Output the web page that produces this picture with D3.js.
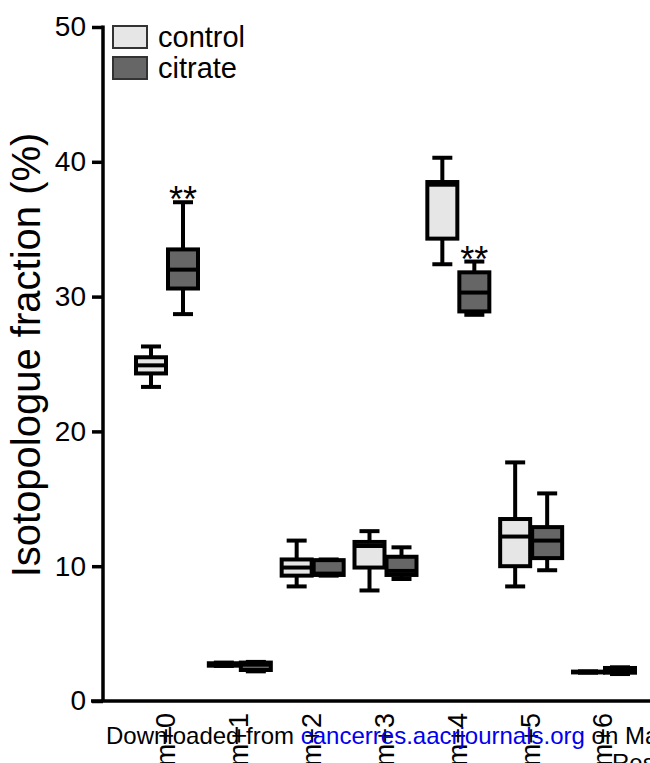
<!DOCTYPE html>
<html>
<head>
<meta charset="utf-8">
<script src="https://cdn.jsdelivr.net/npm/d3@7"></script>
<style>
    body { margin: 0; background: #fff; }
    svg { display: block; font-family: "Liberation Sans", Arial, sans-serif; }
</style>
</head>
<body>
<div class="chart"></div>
<script>
// isotopologue groups and tick labels
const groups = ["m+0", "m+1", "m+2", "m+3", "m+4", "m+5", "m+6"];
const yTicks = [0, 10, 20, 30, 40, 50];
const seriesNames = ["control", "citrate"];

// [whisker low, q1, median, q3, whisker high]
const controlStats = [
    [23.3, 24.3, 24.9, 25.5, 26.3],
    [2.6, 2.62, 2.7, 2.8, 2.85],
    [8.5, 9.3, 9.9, 10.5, 11.9],
    [8.2, 9.9, 11.5, 11.8, 12.6],
    [32.4, 34.3, 38.3, 38.5, 40.3],
    [8.5, 10.0, 12.2, 13.5, 17.7],
    [2.1, 2.12, 2.15, 2.18, 2.2]
];
const citrateStats = [
    [28.7, 30.6, 32.0, 33.5, 37.0],
    [2.2, 2.3, 2.7, 2.85, 2.9],
    [9.3, 9.35, 9.45, 10.45, 10.5],
    [9.05, 9.35, 9.65, 10.7, 11.4],
    [28.65, 28.9, 30.3, 31.8, 32.6],
    [9.7, 10.6, 11.9, 12.9, 15.4],
    [2.0, 2.1, 2.3, 2.45, 2.5]
];
// significance marks on citrate
const stars = ["**", "", "", "", "**", "", ""];

const width = 650;
const height = 763;
const fills = { control: "#e6e6e6", citrate: "#666666" };
const stroke = 4;

const svg = d3.select(".chart").append("svg")
    .attr("width", width)
    .attr("height", height);

const y = d3.scaleLinear().domain([0, 50]).range([701, 27]);
const x = d3.scalePoint().domain(groups).range([166, 603]);
const offset = { control: -15, citrate: 17 };
const boxWidth = 30;
const capWidth = 20;

// y axis
const yAxis = d3.axisLeft(y).tickValues(yTicks).tickSize(11).tickPadding(6);
const gy = svg.append("g")
    .attr("class", "y-axis")
    .attr("transform", "translate(103,0)")
    .call(yAxis);
gy.select(".domain").remove();
gy.append("line")
    .attr("x1", 0).attr("x2", 0)
    .attr("y1", y(50) - 1.5).attr("y2", y(0))
    .attr("stroke", "#000").attr("stroke-width", 3.5);
gy.selectAll(".tick line").attr("stroke", "#000").attr("stroke-width", 3.5);
gy.selectAll(".tick text")
    .attr("fill", "#000")
    .style("font-size", "28px");

// x axis baseline
svg.append("line")
    .attr("x1", 91).attr("x2", width)
    .attr("y1", y(0)).attr("y2", y(0))
    .attr("stroke", "#000").attr("stroke-width", 3.5);

svg.selectAll(".x-label")
    .data(groups)
    .enter()
    .append("text")
    .attr("class", "x-label")
    .attr("transform", (d) => `translate(${x(d)},713) rotate(-90)`)
    .attr("text-anchor", "end")
    .attr("dy", ".35em")
    .style("font-size", "27px")
    .text((d) => d);

// y label
svg.append("text")
    .attr("transform", "translate(40,355) rotate(-90)")
    .attr("text-anchor", "middle")
    .style("font-size", "40px")
    .text("Isotopologue fraction (%)");

// boxes
function drawBoxes(name, stats) {
    const g = svg.append("g").attr("class", "box " + name);
    const box = g.selectAll("g")
        .data(stats)
        .enter()
        .append("g")
        .attr("transform", (d, i) => `translate(${x(groups[i]) + offset[name]},0)`);

    box.append("line")
        .attr("y1", (d) => y(d[0])).attr("y2", (d) => y(d[4]))
        .attr("stroke", "#000").attr("stroke-width", stroke);
    box.append("line")
        .attr("x1", -capWidth / 2).attr("x2", capWidth / 2)
        .attr("y1", (d) => y(d[4])).attr("y2", (d) => y(d[4]))
        .attr("stroke", "#000").attr("stroke-width", stroke);
    box.append("line")
        .attr("x1", -capWidth / 2).attr("x2", capWidth / 2)
        .attr("y1", (d) => y(d[0])).attr("y2", (d) => y(d[0]))
        .attr("stroke", "#000").attr("stroke-width", stroke);
    box.append("rect")
        .attr("x", -boxWidth / 2)
        .attr("width", boxWidth)
        .attr("y", (d) => y(d[3]))
        .attr("height", (d) => y(d[1]) - y(d[3]))
        .attr("fill", fills[name])
        .attr("stroke", "#000").attr("stroke-width", stroke);
    box.append("line")
        .attr("x1", -boxWidth / 2).attr("x2", boxWidth / 2)
        .attr("y1", (d) => y(d[2])).attr("y2", (d) => y(d[2]))
        .attr("stroke", "#000").attr("stroke-width", stroke);
}
drawBoxes("control", controlStats);
drawBoxes("citrate", citrateStats);

svg.selectAll(".star")
    .data(stars)
    .enter()
    .append("text")
    .attr("class", "star")
    .attr("x", (d, i) => x(groups[i]) + offset.citrate)
    .attr("y", (d, i) => y(citrateStats[i][4]) + 10)
    .attr("text-anchor", "middle")
    .style("font-size", "36px")
    .text((d) => d);

// legend
const legend = svg.append("g").attr("class", "legend");
const item = legend.selectAll("g")
    .data(seriesNames)
    .enter()
    .append("g")
    .attr("transform", (d, i) => `translate(113,${26 + i * 31})`);
item.append("rect")
    .attr("width", 34).attr("height", 22)
    .attr("fill", (d) => fills[d])
    .attr("stroke", "#333").attr("stroke-width", 2);
item.append("text")
    .attr("x", 45).attr("y", 11)
    .attr("dy", ".35em")
    .style("font-size", "29px")
    .text((d) => d);

// download watermark over the bottom of the figure
const wm = svg.append("text")
    .attr("x", 106).attr("y", 744)
    .style("font-size", "24px");
wm.append("tspan").attr("fill", "#000").text("Downloaded from ");
wm.append("tspan").attr("fill", "#0000ee").text("cancerres.aacrjournals.org");
wm.append("tspan").attr("fill", "#000").text(" on Ma");
svg.append("text")
    .attr("x", 612).attr("y", 771)
    .style("font-size", "24px")
    .text("Res");
</script>
</body>
</html>
